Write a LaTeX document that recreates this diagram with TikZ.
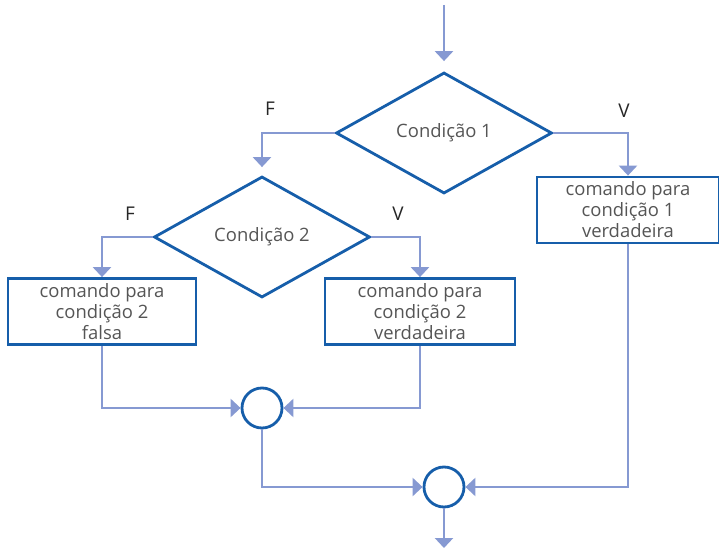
\documentclass[tikz,border=0pt]{standalone}
\usepackage{fontspec}
\setmainfont{Open Sans}
\usepackage{tikz}
\usetikzlibrary{shapes.geometric, arrows.meta, positioning}
\definecolor{flowblue}{RGB}{22,94,170}
\definecolor{linkblue}{RGB}{134,153,210}
\definecolor{textgray}{RGB}{85,85,85}
\tikzstyle{arrow}=[-{Triangle[width=18bp,length=10bp]}, line width=2.6bp, color=linkblue]
\tikzstyle{decision}=[diamond, draw=flowblue, line width=2.8bp, minimum width=216bp,
                      minimum height=121bp, inner sep=0pt, text=textgray,
                      font=\fontsize{18.5}{21}\selectfont]
\tikzstyle{cmdbox}=[rectangle, draw=flowblue, line width=2.8bp, minimum height=66bp,
                    align=center, text=textgray, font=\fontsize{18.5}{21}\selectfont]
\tikzstyle{junction}=[circle, draw=flowblue, line width=2.8bp, minimum size=40bp, inner sep=0pt]
\tikzstyle{branch}=[font=\fontsize{19}{22}\selectfont, text=black!85]

\begin{document}
\begin{tikzpicture}[x=1bp, y=-1bp]
  \useasboundingbox (0,0) rectangle (719,551);
  \coordinate (start) at (444,5);
  \coordinate (stop) at (444,548);
  % decisions
  \node[decision] (c1) at (444,133) {Condição 1};
  \node[decision] (c2) at (262,237) {Condição 2};
  % commands
  \node[cmdbox, minimum width=182bp] (t1) at (628,210)
    {comando para\\condição 1\\verdadeira};
  \node[cmdbox, minimum width=188bp] (f2) at (102,311.5)
    {comando para\\condição 2\\falsa};
  \node[cmdbox, minimum width=190bp] (t2) at (420,311.5)
    {comando para\\condição 2\\verdadeira};
  % junctions
  \node[junction] (j1) at (262,408) {};
  \node[junction] (j2) at (444,487) {};
  % branch labels
  \node[branch] (f1lab) at (270,109) {F};
  \node[branch] (v1lab) at (624,111) {V};
  \node[branch] (f2lab) at (130,214) {F};
  \node[branch] (v2lab) at (398,214) {V};
  % connectors
  \draw[arrow, shorten >=10bp] (start) -- (c1.north);
  \draw[arrow, shorten >=8bp] (c1.west) -| (c2.north);
  \draw[arrow] (c1.east) -| (t1.north);
  \draw[arrow] (c2.west) -| (f2.north);
  \draw[arrow] (c2.east) -| (t2.north);
  \draw[arrow] (f2.south) |- (j1.west);
  \draw[arrow] (t2.south) |- (j1.east);
  \draw[arrow] (j1.south) |- (j2.west);
  \draw[arrow] (t1.south) |- (j2.east);
  \draw[arrow] (j2.south) -- (stop);
\end{tikzpicture}
\end{document}
